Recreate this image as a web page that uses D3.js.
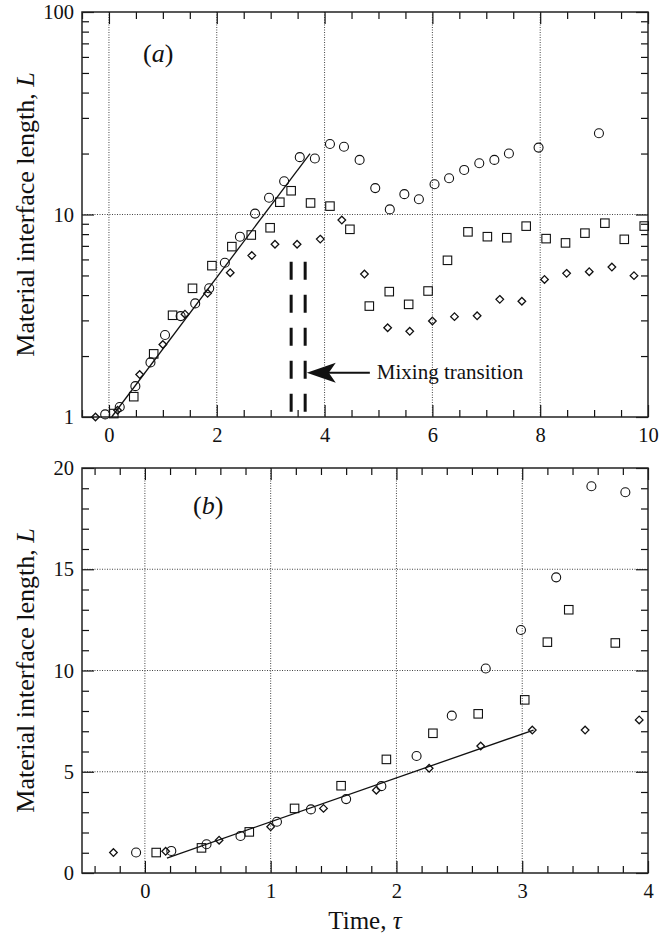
<!DOCTYPE html>
<html><head><meta charset="utf-8">
<script src="https://cdn.jsdelivr.net/npm/d3@7/dist/d3.min.js"></script>
<style>
body{margin:0;background:#fff;}
svg{display:block;font-family:"Liberation Serif","Times New Roman","DejaVu Serif",serif;}
</style></head>
<body>
<svg id="chart" width="660" height="940"></svg>
<script>
// ---------- Panel (a) data (log scale) ----------
const aCircleT = [-0.07,0.2,0.49,0.77,1.04,1.33,1.6,1.86,2.15,2.43,2.71,2.97,3.25,3.54,3.82,4.1,4.36,4.65,4.94,5.21,5.48,5.75,6.04,6.31,6.59,6.87,7.15,7.42,7.97,9.09];
const aCircleL = [1.03,1.12,1.42,1.86,2.54,3.15,3.64,4.32,5.78,7.77,10.1,12.1,14.6,19.2,18.9,22.3,21.6,18.6,13.5,10.6,12.6,11.9,14.1,15.1,16.6,17.9,18.6,20.0,21.4,25.2];
const aSquareT = [0.09,0.46,0.83,1.18,1.55,1.91,2.28,2.64,2.99,3.17,3.38,3.74,4.1,4.47,4.83,5.2,5.56,5.92,6.28,6.66,7.02,7.38,7.74,8.11,8.47,8.83,9.2,9.56,9.93];
const aSquareL = [1.04,1.26,2.05,3.18,4.32,5.59,6.94,7.92,8.6,11.5,13.1,11.4,11.0,8.45,3.53,4.16,3.6,4.19,5.94,8.21,7.77,7.68,8.76,7.6,7.24,8.09,9.06,7.54,8.77];
const aDiamondT = [-0.25,0.16,0.57,1.0,1.41,1.83,2.25,2.65,3.08,3.49,3.92,4.32,4.74,5.17,5.58,6.0,6.41,6.83,7.25,7.66,8.08,8.49,8.91,9.33,9.74];
const aDiamondL = [1.0,1.08,1.62,2.28,3.22,4.08,5.16,6.27,7.13,7.13,7.56,9.39,5.08,2.76,2.65,2.98,3.13,3.16,3.81,3.73,4.78,5.12,5.22,5.5,4.99];
const aFitT = [0.05,3.73];
const aFitL = [1,20];
const aTransitionT = [3.38,3.64];
const aTransitionL = [5.84,1];
const aXTicks = [0,2,4,6,8,10];
const aYTicks = [1,10,100];

// ---------- Panel (b) data (linear scale) ----------
const bCircleT = [-0.07,0.21,0.49,0.76,1.05,1.32,1.6,1.88,2.16,2.44,2.71,2.99,3.27,3.55,3.82];
const bCircleL = [1.01,1.09,1.42,1.83,2.53,3.14,3.65,4.29,5.78,7.77,10.1,12.0,14.6,19.1,18.8];
const bSquareT = [0.09,0.45,0.83,1.19,1.56,1.92,2.29,2.65,3.02,3.2,3.37,3.74];
const bSquareL = [1.01,1.24,2.03,3.19,4.31,5.61,6.9,7.86,8.55,11.4,13.0,11.36];
const bDiamondT = [-0.25,0.165,0.59,1.0,1.42,1.84,2.26,2.67,3.08,3.5,3.93];
const bDiamondL = [1.01,1.07,1.62,2.28,3.19,4.09,5.17,6.27,7.06,7.06,7.56];
const bFitT = [0.175,3.09];
const bFitL = [0.74,7.06];
const bXTicks = [0,1,2,3,4];
const bYTicks = [0,5,10,15,20];

// ---------- layout ----------
const FONT = "'Liberation Serif','Times New Roman','DejaVu Serif',serif";
const svg = d3.select("#chart");
const INK = "#111";
const W = {left:82,right:648};
const A = {top:12,bottom:417};
const B = {top:468,bottom:873};

const xA = d3.scaleLinear().domain([-0.5,10]).range([W.left,W.right]);
const yA = d3.scaleLog().domain([1,100]).range([A.bottom,A.top]);
const xB = d3.scaleLinear().domain([-0.5,4]).range([W.left,W.right]);
const yB = d3.scaleLinear().domain([0,20]).range([B.bottom,B.top]);

function zip(a,b){return a.map((v,i)=>[v,b[i]]);}

function panel(x,y,top,bottom,xMajor,xMinor,yMajor,yMinor,xFmt,yFmt,xGrid,yGrid){
  const g = svg.append("g");
  const width = W.right-W.left, height = bottom-top;
  g.selectAll(".gx").data(xGrid).join("line")
    .attr("x1",d=>x(d)).attr("x2",d=>x(d)).attr("y1",top).attr("y2",bottom)
    .attr("stroke","#444").attr("stroke-width",1).attr("stroke-dasharray","1,1.5");
  g.selectAll(".gy").data(yGrid).join("line")
    .attr("y1",d=>y(d)).attr("y2",d=>y(d)).attr("x1",W.left).attr("x2",W.right)
    .attr("stroke","#444").attr("stroke-width",1).attr("stroke-dasharray","1,1.5");
  const style = sel=>{sel.select(".domain").remove();
    sel.attr("font-family",FONT);
    sel.selectAll("line").attr("stroke",INK).attr("stroke-width",1.2);
    sel.selectAll("text").attr("fill",INK).style("font-size","20.5px").style("font-family",FONT);};
  g.append("g").attr("transform",`translate(0,${bottom})`)
    .call(d3.axisBottom(x).tickValues(xMajor).tickSizeInner(-12).tickSizeOuter(0).tickPadding(10).tickFormat(xFmt)).call(style);
  g.append("g").attr("transform",`translate(0,${bottom})`)
    .call(d3.axisBottom(x).tickValues(xMinor).tickSizeInner(-7).tickSizeOuter(0).tickFormat("")).call(style);
  g.append("g").attr("transform",`translate(0,${top})`)
    .call(d3.axisTop(x).tickValues(xMajor).tickSizeInner(-12).tickSizeOuter(0).tickFormat("")).call(style);
  g.append("g").attr("transform",`translate(0,${top})`)
    .call(d3.axisTop(x).tickValues(xMinor).tickSizeInner(-7).tickSizeOuter(0).tickFormat("")).call(style);
  g.append("g").attr("transform",`translate(${W.left},0)`)
    .call(d3.axisLeft(y).tickValues(yMajor).tickSizeInner(-12).tickSizeOuter(0).tickPadding(8).tickFormat(yFmt)).call(style);
  g.append("g").attr("transform",`translate(${W.left},0)`)
    .call(d3.axisLeft(y).tickValues(yMinor).tickSizeInner(-7).tickSizeOuter(0).tickFormat("")).call(style);
  g.append("g").attr("transform",`translate(${W.right},0)`)
    .call(d3.axisRight(y).tickValues(yMajor).tickSizeInner(-12).tickSizeOuter(0).tickFormat("")).call(style);
  g.append("g").attr("transform",`translate(${W.right},0)`)
    .call(d3.axisRight(y).tickValues(yMinor).tickSizeInner(-7).tickSizeOuter(0).tickFormat("")).call(style);
  g.append("rect").attr("x",W.left).attr("y",top).attr("width",width).attr("height",height)
    .attr("fill","none").attr("stroke","#222").attr("stroke-width",1.5);
  return g;
}

function marks(g,x,y,cT,cL,sT,sL,dT,dL,fT,fL){
  const line = d3.line().x(d=>x(d[0])).y(d=>y(d[1]));
  g.append("path").datum(zip(fT,fL)).attr("d",line)
    .attr("fill","none").attr("stroke",INK).attr("stroke-width",1.3);
  g.selectAll(".c").data(zip(cT,cL)).join("circle")
    .attr("cx",d=>x(d[0])).attr("cy",d=>y(d[1])).attr("r",4.5)
    .attr("fill","none").attr("stroke",INK).attr("stroke-width",1.1);
  const s=8.5;
  g.selectAll(".s").data(zip(sT,sL)).join("rect")
    .attr("x",d=>x(d[0])-s/2).attr("y",d=>y(d[1])-s/2).attr("width",s).attr("height",s)
    .attr("fill","none").attr("stroke",INK).attr("stroke-width",1.1);
  const h=3.8;
  g.selectAll(".d").data(zip(dT,dL)).join("path")
    .attr("d",d=>{const cx=x(d[0]),cy=y(d[1]);return `M${cx},${cy-h}L${cx+h},${cy}L${cx},${cy+h}L${cx-h},${cy}Z`;})
    .attr("fill","none").attr("stroke",INK).attr("stroke-width",1.3);
}

const aXMinor = d3.range(-0.5,10.01,0.5).filter(v=>Math.abs(v/2-Math.round(v/2))>1e-6);
const aYMinor = [2,3,4,5,6,7,8,9,20,30,40,50,60,70,80,90];
const bXMinor = d3.range(-0.4,4.01,0.2).map(v=>+v.toFixed(2)).filter(v=>Math.abs(v-Math.round(v))>1e-6);
const bYMinor = d3.range(1,20,1).filter(v=>v%5!==0);

const gA = panel(xA,yA,A.top,A.bottom,aXTicks,aXMinor,aYTicks,aYMinor,d3.format("d"),d3.format("d"),[0,2,4,6,8],[10]);
marks(gA,xA,yA,aCircleT,aCircleL,aSquareT,aSquareL,aDiamondT,aDiamondL,aFitT,aFitL);

const gB = panel(xB,yB,B.top,B.bottom,bXTicks,bXMinor,bYTicks,bYMinor,d3.format("d"),d3.format("d"),[0,1,2,3],[5,10,15]);
marks(gB,xB,yB,bCircleT,bCircleL,bSquareT,bSquareL,bDiamondT,bDiamondL,bFitT,bFitL);

gA.selectAll(".mt").data(aTransitionT).join("line")
  .attr("x1",d=>xA(d)).attr("x2",d=>xA(d))
  .attr("y1",yA(aTransitionL[0])).attr("y2",yA(aTransitionL[1]))
  .attr("stroke",INK).attr("stroke-width",3).attr("stroke-dasharray","18,15");

const tipX = xA(3.67), tipY = yA(1.655), tailX = xA(4.84);
gA.append("line").attr("x1",tailX).attr("x2",tipX+10).attr("y1",tipY).attr("y2",tipY)
  .attr("stroke",INK).attr("stroke-width",2);
gA.append("path")
  .attr("d",`M${tipX},${tipY}L${tipX+29},${tipY-10}L${tipX+22},${tipY}L${tipX+29},${tipY+10}Z`)
  .attr("fill",INK);
gA.append("text").attr("x",tailX+7).attr("y",tipY+6.5)
  .style("font-size","21px").style("font-family",FONT).attr("fill",INK).text("Mixing transition");

gA.append("text").attr("x",143).attr("y",62).style("font-size","26px").style("font-family",FONT).attr("fill",INK)
  .html('(<tspan font-style="italic">a</tspan>)');
gB.append("text").attr("x",193).attr("y",514).style("font-size","26px").style("font-family",FONT).attr("fill",INK)
  .html('(<tspan font-style="italic">b</tspan>)');

function yTitle(cy){
  svg.append("text").attr("transform",`translate(34,${cy}) rotate(-90)`)
    .attr("text-anchor","middle").style("font-size","26px").style("font-family",FONT).attr("fill",INK)
    .html('Material interface length, <tspan font-style="italic">L</tspan>');
}
yTitle((A.top+A.bottom)/2);
yTitle((B.top+B.bottom)/2);
svg.append("text").attr("x",365).attr("y",929).attr("text-anchor","middle")
  .style("font-size","25px").style("font-family",FONT).attr("fill",INK)
  .html('Time, <tspan font-style="italic">τ</tspan>');
</script>
</body></html>
